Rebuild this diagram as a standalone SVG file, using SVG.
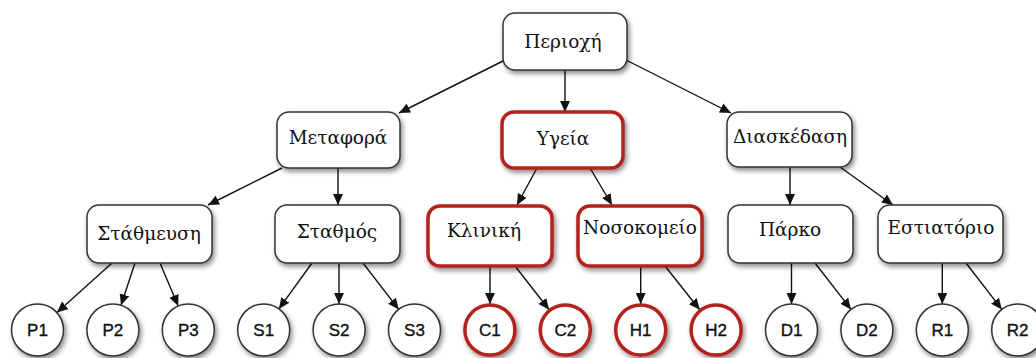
<svg xmlns="http://www.w3.org/2000/svg" width="1036" height="358" viewBox="0 0 1036 358">
<style>
.box{fill:#fff;stroke:#333;stroke-width:1.5;filter:url(#sh)}
.red{fill:#fff;stroke:#b3211b;stroke-width:3.5;filter:url(#sh)}
.lbl{font-family:"DejaVu Serif","Liberation Serif",serif;font-size:18.5px;fill:#111;text-anchor:middle}
.cl{font-family:"Liberation Sans",Arial,sans-serif;font-size:17px;fill:#111;stroke:#111;stroke-width:0.35;text-anchor:middle}
.edge{stroke:#111;stroke-width:1.4;fill:none;marker-end:url(#ah)}
</style>
<defs>
<filter id="sh" x="-20%" y="-20%" width="150%" height="160%">
<feDropShadow dx="2" dy="3" stdDeviation="2.5" flood-color="#000" flood-opacity="0.45"/>
</filter>
<marker id="ah" viewBox="0 0 10 10" refX="10" refY="5" markerWidth="11" markerHeight="11" markerUnits="userSpaceOnUse" orient="auto">
<path d="M0,0.5 L10,5 L0,9.5 z" fill="#111"/>
</marker>
</defs>
<g id="connectors">
<line class="edge" x1="505" y1="60" x2="399" y2="113"/>
<line class="edge" x1="565" y1="70" x2="565" y2="112"/>
<line class="edge" x1="626" y1="60" x2="731" y2="113"/>
<line class="edge" x1="282" y1="168" x2="208" y2="205"/>
<line class="edge" x1="338" y1="168" x2="338" y2="205"/>
<line class="edge" x1="537" y1="168" x2="517" y2="205"/>
<line class="edge" x1="590" y1="168" x2="612" y2="205"/>
<line class="edge" x1="790" y1="167" x2="790" y2="205"/>
<line class="edge" x1="840" y1="167" x2="893" y2="205"/>
<line class="edge" x1="112" y1="263" x2="57" y2="312.6"/>
<line class="edge" x1="135" y1="263" x2="121" y2="305.3"/>
<line class="edge" x1="160" y1="263" x2="178.2" y2="306"/>
<line class="edge" x1="312" y1="263" x2="278.9" y2="308.9"/>
<line class="edge" x1="339" y1="263" x2="339" y2="304"/>
<line class="edge" x1="363" y1="263" x2="398.7" y2="309.4"/>
<line class="edge" x1="490" y1="266" x2="490" y2="304"/>
<line class="edge" x1="515" y1="266" x2="549.1" y2="309.7"/>
<line class="edge" x1="640.7" y1="266" x2="640.7" y2="304"/>
<line class="edge" x1="665" y1="266" x2="699.7" y2="309.8"/>
<line class="edge" x1="791.5" y1="263" x2="791.5" y2="304"/>
<line class="edge" x1="815" y1="263" x2="851" y2="309.4"/>
<line class="edge" x1="942.3" y1="263" x2="942.3" y2="304"/>
<line class="edge" x1="966" y1="263" x2="1001.8" y2="309.4"/>
</g>
<g id="n-perioxi"><rect class="box" x="503" y="13" width="124" height="57" rx="12"/><text class="lbl" x="563" y="48">Περιοχή</text></g>
<g id="n-metafora"><rect class="box" x="277" y="112" width="123" height="56" rx="12"/><text class="lbl" x="338" y="144">Μεταφορά</text></g>
<g id="n-ygeia"><rect class="red" x="502" y="112" width="121" height="56" rx="12"/><text class="lbl" x="563" y="145">Υγεία</text></g>
<g id="n-diaskedasi"><rect class="box" x="727" y="112" width="125" height="55" rx="12"/><text class="lbl" x="790" y="143">Διασκέδαση</text></g>
<g id="n-stathmeysi"><rect class="box" x="87" y="205" width="125" height="58" rx="12"/><text class="lbl" x="149" y="240">Στάθμευση</text></g>
<g id="n-stathmos"><rect class="box" x="275" y="205" width="125" height="58" rx="12"/><text class="lbl" x="337" y="238">Σταθμός</text></g>
<g id="n-kliniki"><rect class="red" x="428" y="206" width="124" height="60" rx="12"/><text class="lbl" x="484" y="237">Κλινική</text></g>
<g id="n-nosokomeio"><rect class="red" x="578" y="206" width="124" height="60" rx="12"/><text class="lbl" x="640" y="234">Νοσοκομείο</text></g>
<g id="n-parko"><rect class="box" x="728" y="205" width="125" height="58" rx="12"/><text class="lbl" x="790" y="236">Πάρκο</text></g>
<g id="n-estiatorio"><rect class="box" x="878" y="205" width="125" height="58" rx="12"/><text class="lbl" x="941" y="234">Εστιατόριο</text></g>
<g id="n-p1"><circle class="box" cx="37.5" cy="330" r="26"/><text class="cl" x="37.5" y="336">P1</text></g>
<g id="n-p2"><circle class="box" cx="112.9" cy="330" r="26"/><text class="cl" x="112.9" y="336">P2</text></g>
<g id="n-p3"><circle class="box" cx="188.3" cy="330" r="26"/><text class="cl" x="188.3" y="336">P3</text></g>
<g id="n-s1"><circle class="box" cx="263.7" cy="330" r="26"/><text class="cl" x="263.7" y="336">S1</text></g>
<g id="n-s2"><circle class="box" cx="339.1" cy="330" r="26"/><text class="cl" x="339.1" y="336">S2</text></g>
<g id="n-s3"><circle class="box" cx="414.5" cy="330" r="26"/><text class="cl" x="414.5" y="336">S3</text></g>
<g id="n-c1"><circle class="red" cx="489.9" cy="330" r="25"/><text class="cl" x="489.9" y="336">C1</text></g>
<g id="n-c2"><circle class="red" cx="565.3" cy="330" r="25"/><text class="cl" x="565.3" y="336">C2</text></g>
<g id="n-h1"><circle class="red" cx="640.7" cy="330" r="25"/><text class="cl" x="640.7" y="336">H1</text></g>
<g id="n-h2"><circle class="red" cx="716.1" cy="330" r="25"/><text class="cl" x="716.1" y="336">H2</text></g>
<g id="n-d1"><circle class="box" cx="791.5" cy="330" r="26"/><text class="cl" x="791.5" y="336">D1</text></g>
<g id="n-d2"><circle class="box" cx="866.9" cy="330" r="26"/><text class="cl" x="866.9" y="336">D2</text></g>
<g id="n-r1"><circle class="box" cx="942.3" cy="330" r="26"/><text class="cl" x="942.3" y="336">R1</text></g>
<g id="n-r2"><circle class="box" cx="1017.7" cy="330" r="26"/><text class="cl" x="1017.7" y="336">R2</text></g>
</svg>
